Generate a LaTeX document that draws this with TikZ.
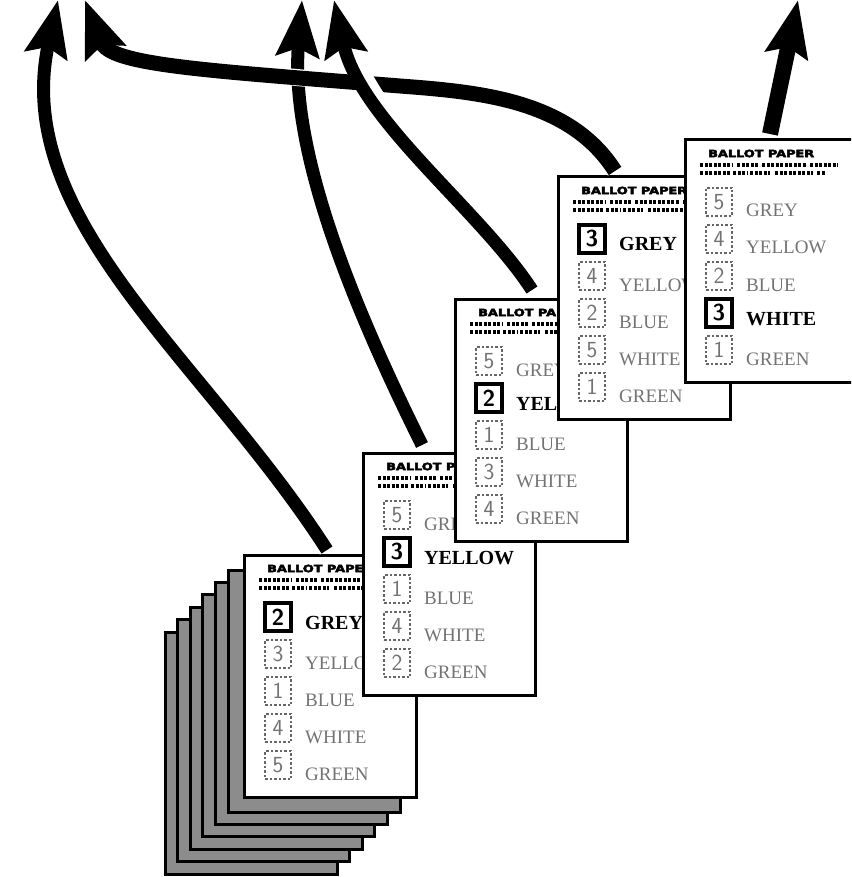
\documentclass[tikz,border=0pt]{standalone}
\usepackage{graphicx}
\usepackage{fontspec}
\setmainfont{Liberation Serif}
\newfontfamily\headfont[FakeBold=4]{DejaVu Sans Bold}
\usetikzlibrary{arrows.meta}

\tikzset{
  ballot/.style={draw, fill=white, line width=3pt, minimum width=172pt, minimum height=242pt,
    anchor=north west, inner sep=0pt, outer sep=0pt},
  spareballot/.style={ballot, fill=black!45},
  titletext/.style={anchor=west, inner sep=0pt},
  dashrow/.style={line width=3.5pt, dash pattern=on 3pt off 1.5pt},
  votebox/.style={draw, line width=4pt, minimum width=26pt, minimum height=28pt, inner sep=0pt,
    font=\sffamily\bfseries\fontsize{23}{23}\selectfont},
  blankbox/.style={draw=black!60, dotted, line width=2.5pt, minimum width=26pt, minimum height=28pt,
    inner sep=0pt, text=black!55, font=\sffamily\fontsize{23}{23}\selectfont},
  votename/.style={anchor=base west, inner sep=0pt, font=\bfseries\fontsize{20}{20}\selectfont},
  plainname/.style={anchor=base west, inner sep=0pt, text=black!55, font=\fontsize{19}{19}\selectfont},
  transfer/.style={line width=13pt, -{Stealth[length=56pt,width=42pt,inset=8pt]},
    preaction={draw=white, line width=17pt, -}}
}

% one ballot paper: name, top left corner, rows number/colour/marked
\newcommand{\ballotcard}[4]{%
  \node[ballot] (#1) at (#2,#3) {};
  \begin{scope}[shift={(#2,#3)}]
    \node[titletext] (#1-title) at (23,13.5) {\resizebox{106pt}{7.5pt}{\headfont BALLOT PAPER}};
    \draw[dashrow] (15,25) -- (48,25) (52,25) -- (73,25) (77,25) -- (122,25) (125,25) -- (153,25);
    \draw[dashrow] (15,33) -- (45,33) (48,33) -- (62,33) (65,33) -- (85,33) (90,33) -- (128,33) (132,33) -- (140,33);
    \foreach \n/\w/\v [count=\i] in {#4} {
      \pgfmathsetmacro\cy{25+37*\i}
      \ifnum\v=1
        \node[votebox] (#1-box\i) at (34,\cy) {\n};
        \node[votename] (#1-name\i) at (61,\cy+12) {\w};
      \else
        \node[blankbox] (#1-box\i) at (34,\cy) {\n};
        \node[plainname] (#1-name\i) at (61,\cy+15) {\w};
      \fi
    }
  \end{scope}
}

\begin{document}
\begin{tikzpicture}[x=1pt, y=-1pt]
  \useasboundingbox (0,0) rectangle (851,877);
  \clip (0,0) rectangle (851,877);

  % the pile of papers still to count
  \foreach \k in {6,...,1}
    \node[spareballot] (spare\k) at ({228-12.6*(\k-1)},{570+12.4*(\k-1)}) {};

  \ballotcard{cardA}{244}{555}{2/GREY/1, 3/YELLOW/0, 1/BLUE/0, 4/WHITE/0, 5/GREEN/0}
  \ballotcard{cardB}{363}{453}{5/GREY/0, 3/YELLOW/1, 1/BLUE/0, 4/WHITE/0, 2/GREEN/0}
  \ballotcard{cardC}{455}{299}{5/GREY/0, 2/YELLOW/1, 1/BLUE/0, 3/WHITE/0, 4/GREEN/0}
  \ballotcard{cardD}{558}{177}{3/GREY/1, 4/YELLOW/0, 2/BLUE/0, 5/WHITE/0, 1/GREEN/0}
  \ballotcard{cardE}{685}{140}{5/GREY/0, 4/YELLOW/0, 2/BLUE/0, 3/WHITE/1, 1/GREEN/0}

  \coordinate (tipA) at (58,0);
  \coordinate (tipB) at (302,0);
  \coordinate (tipC) at (334,0);
  \coordinate (tipD) at (85,0);
  \coordinate (tipE) at (798,0);

  \draw[transfer] ([xshift=83pt,yshift=5pt]cardA.north west) .. controls (205,360) and (10,220) .. (tipA);
  \draw[transfer] ([xshift=59pt,yshift=8pt]cardB.north west) .. controls (350,300) and (290,150) .. (tipB);
  \draw[transfer, line width=15pt] ([xshift=57pt,yshift=6pt]cardD.north west) .. controls (570,100) and (480,92) .. (400,86)
    .. controls (200,70) and (110,65) .. (tipD);
  \draw[transfer] ([xshift=77pt,yshift=9pt]cardC.north west) .. controls (480,210) and (360,120) .. (tipC);
  \draw[transfer, line width=16pt] ([xshift=85pt,yshift=6pt]cardE.north west) -- (tipE);
\end{tikzpicture}
\end{document}
